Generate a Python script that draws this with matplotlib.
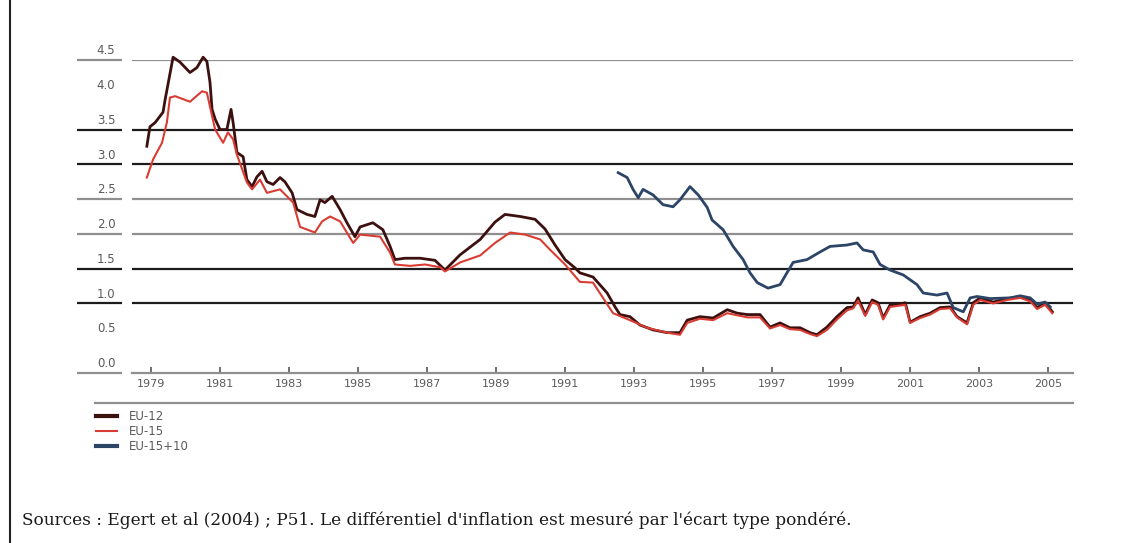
import matplotlib
matplotlib.use("Agg")
import matplotlib.pyplot as plt
import matplotlib.transforms as mtransforms
from matplotlib.lines import Line2D

# ---- data: weighted standard deviation of inflation rates (percentage points) ----
years_eu12 = [1978.88, 1978.97, 1979.12, 1979.35, 1979.41, 1979.64, 1979.84, 1980.13, 1980.33,
              1980.51, 1980.62, 1980.71, 1980.77, 1980.86, 1981.00, 1981.20, 1981.32, 1981.38,
              1981.49, 1981.67, 1981.78, 1981.93, 1982.07, 1982.22, 1982.36, 1982.54, 1982.74,
              1982.88, 1983.09, 1983.23, 1983.52, 1983.75, 1983.90, 1984.04, 1984.25, 1984.48,
              1984.68, 1984.91, 1985.06, 1985.43, 1985.72, 1985.93, 1986.07, 1986.36, 1986.80,
              1987.23, 1987.52, 1987.96, 1988.54, 1988.97, 1989.26, 1989.70, 1990.13, 1990.42,
              1990.71, 1991.00, 1991.29, 1991.43, 1991.81, 1992.22, 1992.45, 1992.59, 1992.88,
              1993.17, 1993.55, 1993.96, 1994.33, 1994.54, 1994.91, 1995.29, 1995.70, 1995.99,
              1996.28, 1996.65, 1996.94, 1997.23, 1997.52, 1997.81, 1998.10, 1998.30, 1998.59,
              1998.88, 1999.17, 1999.35, 1999.49, 1999.70, 1999.90, 2000.07, 2000.22, 2000.42,
              2000.71, 2000.86, 2001.00, 2001.29, 2001.58, 2001.87, 2002.16, 2002.36, 2002.65,
              2002.83, 2003.03, 2003.41, 2003.81, 2004.19, 2004.48, 2004.68, 2004.91, 2005.12]
eu12 = [3.26, 3.54, 3.60, 3.75, 3.93, 4.54, 4.47, 4.32, 4.39,
        4.54, 4.48, 4.18, 3.79, 3.65, 3.50, 3.50, 3.79, 3.60,
        3.17, 3.11, 2.78, 2.68, 2.82, 2.90, 2.75, 2.71, 2.81,
        2.75, 2.59, 2.35, 2.28, 2.25, 2.49, 2.45, 2.54, 2.35,
        2.16, 1.96, 2.10, 2.16, 2.06, 1.82, 1.63, 1.65, 1.65,
        1.62, 1.48, 1.70, 1.92, 2.17, 2.28, 2.25, 2.21, 2.07,
        1.84, 1.63, 1.51, 1.44, 1.38, 1.15, 0.95, 0.84, 0.81,
        0.69, 0.62, 0.58, 0.58, 0.76, 0.81, 0.79, 0.91, 0.86,
        0.84, 0.84, 0.66, 0.72, 0.65, 0.65, 0.58, 0.55, 0.66,
        0.81, 0.94, 0.95, 1.08, 0.84, 1.05, 1.01, 0.79, 0.98,
        0.99, 1.01, 0.73, 0.81, 0.86, 0.94, 0.95, 0.81, 0.72,
        1.01, 1.08, 1.02, 1.07, 1.10, 1.05, 0.94, 1.01, 0.88]

years_eu15 = [1978.88, 1979.06, 1979.32, 1979.46, 1979.55, 1979.70, 1980.13, 1980.48, 1980.62,
              1980.71, 1980.86, 1981.09, 1981.23, 1981.38, 1981.49, 1981.78, 1981.93, 1982.16,
              1982.36, 1982.74, 1983.12, 1983.32, 1983.75, 1983.96, 1984.19, 1984.48, 1984.86,
              1985.06, 1985.64, 1985.93, 1986.07, 1986.51, 1986.94, 1987.38, 1987.52, 1987.96,
              1988.54, 1988.97, 1989.41, 1989.84, 1990.28, 1990.57, 1991.00, 1991.43, 1991.81,
              1992.39, 1992.88, 1993.38, 1993.96, 1994.33, 1994.54, 1994.91, 1995.29, 1995.70,
              1995.99, 1996.28, 1996.65, 1996.94, 1997.23, 1997.52, 1997.81, 1998.10, 1998.30,
              1998.59, 1998.88, 1999.17, 1999.35, 1999.49, 1999.70, 1999.90, 2000.07, 2000.22,
              2000.42, 2000.71, 2000.86, 2001.00, 2001.29, 2001.58, 2001.87, 2002.16, 2002.36,
              2002.65, 2002.83, 2003.03, 2003.41, 2003.81, 2004.19, 2004.48, 2004.68, 2004.91,
              2005.12]
eu15 = [2.81, 3.07, 3.31, 3.60, 3.96, 3.98, 3.90, 4.05, 4.03,
        3.83, 3.50, 3.31, 3.46, 3.36, 3.14, 2.74, 2.64, 2.78,
        2.59, 2.64, 2.45, 2.10, 2.02, 2.18, 2.25, 2.18, 1.87,
        1.99, 1.96, 1.73, 1.56, 1.54, 1.56, 1.52, 1.46, 1.59,
        1.69, 1.87, 2.02, 1.99, 1.92, 1.77, 1.56, 1.31, 1.30,
        0.86, 0.76, 0.65, 0.58, 0.55, 0.72, 0.78, 0.76, 0.86,
        0.83, 0.80, 0.80, 0.64, 0.69, 0.63, 0.62, 0.56, 0.53,
        0.62, 0.77, 0.90, 0.93, 1.04, 0.82, 1.02, 0.98, 0.77,
        0.95, 0.97, 0.98, 0.72, 0.79, 0.84, 0.92, 0.93, 0.80,
        0.70, 0.98, 1.05, 1.00, 1.05, 1.08, 1.03, 0.92, 0.98,
        0.86]

years_eu25 = [1992.54, 1992.80, 1992.97, 1993.12, 1993.26, 1993.55, 1993.84, 1994.13, 1994.33,
              1994.62, 1994.86, 1995.12, 1995.26, 1995.58, 1995.87, 1996.16, 1996.36, 1996.57,
              1996.88, 1997.23, 1997.43, 1997.61, 1998.01, 1998.39, 1998.68, 1999.17, 1999.46,
              1999.64, 1999.93, 2000.13, 2000.42, 2000.80, 2001.20, 2001.38, 2001.78, 2002.07,
              2002.25, 2002.54, 2002.74, 2002.94, 2003.32, 2003.90, 2004.19, 2004.48, 2004.68,
              2004.91, 2005.06]
eu25 = [2.88, 2.81, 2.64, 2.52, 2.64, 2.56, 2.42, 2.39, 2.49,
        2.68, 2.56, 2.38, 2.20, 2.06, 1.82, 1.63, 1.44, 1.30,
        1.22, 1.27, 1.44, 1.59, 1.63, 1.74, 1.82, 1.84, 1.87,
        1.77, 1.74, 1.56, 1.48, 1.41, 1.27, 1.15, 1.12, 1.15,
        0.94, 0.88, 1.08, 1.10, 1.07, 1.08, 1.11, 1.08, 0.99,
        1.02, 0.95]

series_labels = ["EU-12", "EU-15", "EU-15+10"]
x_tick_years = list(range(1979, 2006, 2))
y_tick_values = [0.0, 0.5, 1.0, 1.5, 2.0, 2.5, 3.0, 3.5, 4.0, 4.5]
y_tick_labels = ["0.0", "0.5", "1.0", "1.5", "2.0", "2.5", "3.0", "3.5", "4.0", "4.5"]
# horizontal rules drawn across the plot: level -> colour
rule_levels = [4.5, 3.5, 3.0, 2.5, 2.0, 1.5, 1.0]
rule_colors = ["#8f8f8f", "#1c1c1c", "#1c1c1c", "#8f8f8f", "#8f8f8f", "#1c1c1c", "#1c1c1c"]
source_text = ("Sources : Egert et al (2004) ; P51. Le différentiel d'inflation "
               "est mesuré par l'écart type pondéré.")

# ---- figure ----
W, H, DPI = 1127, 543, 100
fig = plt.figure(figsize=(W / DPI, H / DPI), dpi=DPI)
fig.patch.set_facecolor("white")

ax_l, ax_r, ax_t, ax_b = 132, 1073, 60, 373
ax = fig.add_axes([ax_l / W, 1 - ax_b / H, (ax_r - ax_l) / W, (ax_b - ax_t) / H])
ax.set_xlim(1978.45, 2005.72)
ax.set_ylim(0, 4.5)
for side in ("top", "right", "left"):
    ax.spines[side].set_visible(False)
ax.spines["bottom"].set_color("#8f8f8f")
ax.spines["bottom"].set_linewidth(1.6)

axes_w = ax_r - ax_l
seg_x0, seg_x1 = (77 - ax_l) / axes_w, (122 - ax_l) / axes_w
blend = mtransforms.blended_transform_factory(ax.transAxes, ax.transData)

for lvl, col in zip(rule_levels, rule_colors):
    ax.axhline(lvl, color=col, lw=1.6, zorder=1)
for lvl, col in zip(rule_levels + [0.0], rule_colors + ["#8f8f8f"]):
    ax.plot([seg_x0, seg_x1], [lvl, lvl], transform=blend, color=col, lw=1.6,
            clip_on=False, solid_capstyle="butt")

# series
l12, = ax.plot(years_eu12, eu12, color="#3d1010", lw=2.0, zorder=3, clip_on=False)
l15, = ax.plot(years_eu15, eu15, color="#d83c32", lw=1.5, zorder=4, clip_on=False)
l25, = ax.plot(years_eu25, eu25, color="#2c4466", lw=2.0, zorder=3, clip_on=False)

# ticks
ax.set_xticks(x_tick_years, [str(y) for y in x_tick_years])
ax.tick_params(axis="x", direction="in", length=4, width=1.4, color="#6f6f6f",
               labelsize=8, labelcolor="#5a5a5a", pad=4)
ax.set_yticks(y_tick_values, y_tick_labels)
ax.tick_params(axis="y", length=0, labelsize=8.5, labelcolor="#5a5a5a", pad=12)
lift = mtransforms.ScaledTranslation(0, 2 / 72, fig.dpi_scale_trans)
for lab in ax.get_yticklabels():
    lab.set_va("bottom")
    lab.set_transform(lab.get_transform() + lift)

# legend
leg = ax.legend([l12, l15, l25], series_labels, loc="upper left",
                bbox_to_anchor=(90 / W, 1 - 404 / H), bbox_transform=fig.transFigure,
                frameon=False, fontsize=8.5, handlelength=1.8, handletextpad=1.0,
                labelspacing=0.18, borderpad=0)
for txt in leg.get_texts():
    txt.set_color("#5a5a5a")
for h, lw in zip(leg.legend_handles, [3.0, 1.5, 3.0]):
    h.set_linewidth(lw)

# rule under the date labels and page border at the left
fig.add_artist(Line2D([95 / W, ax_r / W], [1 - 403 / H, 1 - 403 / H],
                      color="#8f8f8f", lw=1.6, transform=fig.transFigure))
fig.add_artist(Line2D([10 / W, 10 / W], [0, 1], color="#222222", lw=1.5,
                      transform=fig.transFigure))

fig.text(22 / W, 1 - 520 / H, source_text, ha="left", va="center",
         fontsize=12.15, family="DejaVu Serif", color="#1a1a1a")

fig.savefig("out.png", dpi=DPI, facecolor="white")
